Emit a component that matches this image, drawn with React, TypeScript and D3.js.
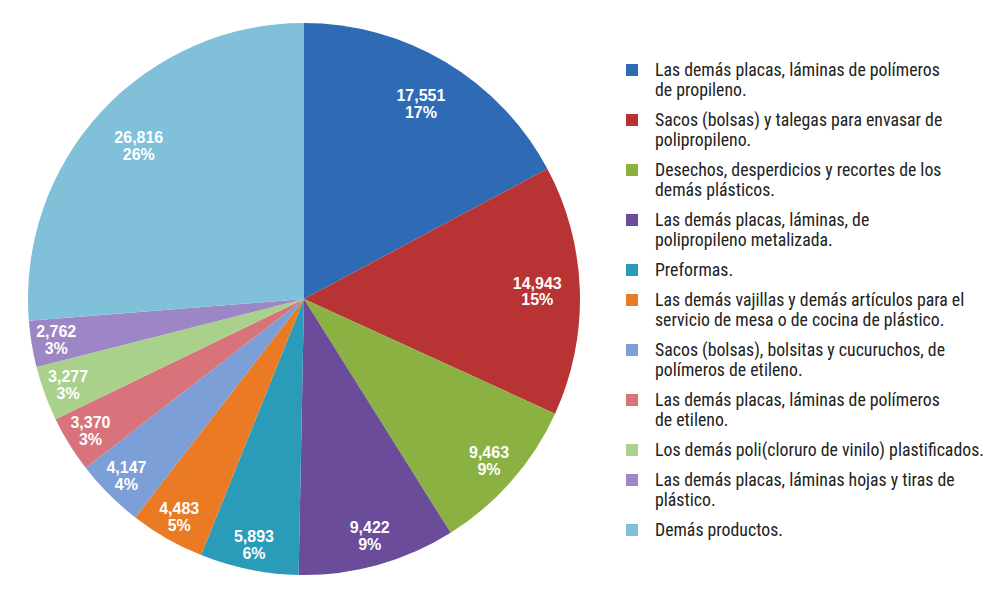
import React from "react";
import * as d3 from "d3";

const values = [17551, 14943, 9463, 9422, 5893, 4483, 4147, 3370, 3277, 2762, 26816];
// percentages as printed on the chart
const percents = ["17%", "15%", "9%", "9%", "6%", "5%", "4%", "3%", "3%", "3%", "26%"];

const colors = [
  "#2F6BB4",
  "#B83333",
  "#8BB143",
  "#6B4C9A",
  "#2A9BB8",
  "#EA7A23",
  "#7B9FD6",
  "#D8737B",
  "#A9D18C",
  "#9C86C5",
  "#80C0D9",
];

const legendLines = [
  ["Las demás placas, láminas de polímeros", "de propileno."],
  ["Sacos (bolsas) y talegas para envasar de", "polipropileno."],
  ["Desechos, desperdicios y recortes de los", "demás plásticos."],
  ["Las demás placas, láminas, de", "polipropileno metalizada."],
  ["Preformas."],
  ["Las demás vajillas y demás artículos para el", "servicio de mesa o de cocina de plástico."],
  ["Sacos (bolsas), bolsitas y cucuruchos, de", "polímeros de etileno."],
  ["Las demás placas, láminas de polímeros", "de etileno."],
  ["Los demás poli(cloruro de vinilo) plastificados."],
  ["Las demás placas, láminas hojas y tiras de", "plástico."],
  ["Demás productos."],
];

const width = 992;
const height = 590;
const cx = 304;
const cy = 299;
const radius = 276;
const legendFont = "'Liberation Sans Narrow', 'Arial Narrow', 'Roboto Condensed', 'Liberation Sans', sans-serif";
const labelFont = "'Liberation Sans', Arial, Helvetica, sans-serif";

export default function App() {
  const total = d3.sum(values);
  const pie = d3.pie<number>().sort(null).value((d) => d);
  const arcs = pie(values);
  const arc = d3.arc<d3.PieArcDatum<number>>().innerRadius(0).outerRadius(radius);
  const fmt = d3.format(",");

  // small slices get their labels pushed further out, like the original
  const labelPos = (a: d3.PieArcDatum<number>) => {
    const frac = a.value / total;
    const r = radius * Math.min(0.91, Math.max(0.815, 0.97 - 0.85 * frac));
    return d3.arc<d3.PieArcDatum<number>>().innerRadius(r).outerRadius(r).centroid(a);
  };

  const lineH = 20;
  const gap = 10;
  let y = 70;
  const legendY = legendLines.map((lines) => {
    const top = y;
    y += lines.length * lineH + gap;
    return top;
  });

  return (
    <div style={{ position: "absolute", left: 0, top: 0 }}>
      <svg width={width} height={height} style={{ display: "block", background: "#fff" }}>
        <g transform={`translate(${cx},${cy})`}>
          {arcs.map((a, i) => (
            <path key={i} d={arc(a) || ""} fill={colors[i]} />
          ))}
          {arcs.map((a, i) => {
            const [x, yy] = labelPos(a);
            return (
              <text
                key={i}
                x={x}
                y={yy}
                textAnchor="middle"
                fill="#fff"
                fontFamily={labelFont}
                fontWeight="bold"
                fontSize={16}
              >
                <tspan x={x} dy="-0.2em">{fmt(a.value)}</tspan>
                <tspan x={x} dy="1.06em">{percents[i]}</tspan>
              </text>
            );
          })}
        </g>
        <g>
          {legendLines.map((lines, i) => (
            <g key={i}>
              <rect x={626} y={legendY[i] - 6} width={12} height={12} fill={colors[i]} />
              {lines.map((l, j) => (
                <text
                  key={j}
                  x={655}
                  y={legendY[i] + j * lineH}
                  dy="0.35em"
                  fill="#222"
                  fontFamily={legendFont}
                  fontSize={17.8}
                >
                  {l}
                </text>
              ))}
            </g>
          ))}
        </g>
      </svg>
    </div>
  );
}
